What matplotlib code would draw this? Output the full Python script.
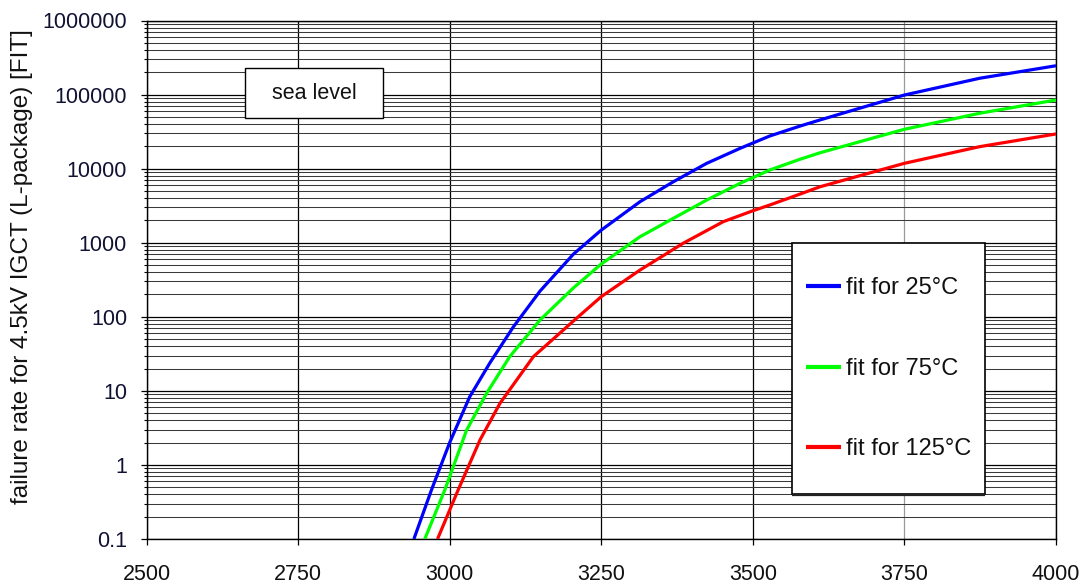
import matplotlib
matplotlib.use("Agg")
import matplotlib.pyplot as plt
from matplotlib.patches import Rectangle
from matplotlib.ticker import FixedLocator, FixedFormatter, LogLocator, NullFormatter

plt.rcParams['font.family'] = ['Liberation Sans', 'DejaVu Sans']

# ---- data ----
x_25 = [2941, 2970, 3000, 3033, 3066, 3105, 3149, 3204, 3250, 3314, 3369, 3424, 3479,
        3528, 3578, 3611, 3750, 3874, 4000]
y_25 = [0.1, 0.46, 2.0, 8.3, 23.6, 73, 222, 700, 1480, 3580, 6660, 11800, 18800,
        27600, 37600, 45500, 98600, 166000, 245000]

x_75 = [2959, 2992, 3028, 3061, 3099, 3149, 3204, 3250, 3314, 3369, 3424, 3479, 3528,
        3578, 3611, 3750, 3874, 4000]
y_75 = [0.1, 0.46, 2.96, 9.3, 28.9, 90.5, 245, 516, 1205, 2135, 3770, 6340, 9590,
        13400, 16400, 34000, 55900, 84500]

x_125 = [2980, 3014, 3050, 3083, 3138, 3206, 3250, 3314, 3385, 3451, 3500, 3528, 3578,
         3611, 3750, 3874, 4000]
y_125 = [0.1, 0.46, 2.17, 6.8, 28.9, 90.5, 187, 428, 982, 1920, 2700, 3230, 4540,
         5700, 11800, 19800, 29400]

series_labels = ["fit for 25°C", "fit for 75°C", "fit for 125°C"]
series_colors = ["#0000ff", "#00ff00", "#ff0000"]

x_ticks = [2500, 2750, 3000, 3250, 3500, 3750, 4000]
y_ticks = [0.1, 1, 10, 100, 1000, 10000, 100000, 1000000]
y_tick_labels = ["0.1", "1", "10", "100", "1000", "10000", "100000", "1000000"]

y_label = "failure rate for 4.5kV IGCT (L-package) [FIT]"
box_text = "sea level"

# ---- figure ----
fig = plt.figure(figsize=(10.82, 5.84), dpi=100)
ax = fig.add_axes([146.5 / 1082, 1 - 539 / 584, 909.5 / 1082, 518.5 / 584])

ax.set_yscale('log')
ax.set_xlim(2500, 4000)
ax.set_ylim(0.1, 1000000)

ax.xaxis.set_major_locator(FixedLocator(x_ticks))
ax.yaxis.set_major_locator(FixedLocator(y_ticks))
ax.yaxis.set_major_formatter(FixedFormatter(y_tick_labels))
ax.yaxis.set_minor_locator(LogLocator(base=10, subs=range(2, 10), numticks=20))
ax.yaxis.set_minor_formatter(NullFormatter())

ax.grid(which='major', axis='both', color='black', linewidth=0.9, zorder=0)
ax.grid(which='minor', axis='y', color='#3a3a3a', linewidth=0.75, zorder=0)
ax.set_axisbelow(True)
# the 3750 vertical gridline is lighter in the reference
ax.get_xgridlines()[5].set_color('#9a9a9a')

ax.tick_params(axis='y', which='major', direction='out', length=4, width=0.9,
               labelsize=15.5, pad=10, colors='black', labelcolor='#111133')
ax.tick_params(axis='y', which='minor', direction='out', length=2.5, width=0.8)
ax.tick_params(axis='x', which='major', direction='out', length=4, width=0.9,
               labelsize=15.5, pad=14, labelcolor='#111111')

for sp in ax.spines.values():
    sp.set_color('black')
    sp.set_linewidth(1.0)

for xs, ys, lab, col in zip([x_25, x_75, x_125], [y_25, y_75, y_125],
                            series_labels, series_colors):
    ax.plot(xs, ys, color=col, linewidth=2.3, label=lab, zorder=3,
            solid_capstyle='butt', solid_joinstyle='round')

ax.set_ylabel(y_label, fontsize=17.5, color='#111111')
ax.yaxis.set_label_coords(-0.1248, 0.525)

# sea level box
ax.add_patch(Rectangle((0.1083, 0.8114), 0.1517, 0.0964, transform=ax.transAxes,
                       facecolor='white', edgecolor='black', linewidth=1.0, zorder=5))
ax.text(0.1842, 0.8596, box_text, transform=ax.transAxes, ha='center', va='center',
        fontsize=15.5, color='#111111', zorder=6)

# legend box
ax.add_patch(Rectangle((0.7094, 0.0862), 0.2125, 0.4841, transform=ax.transAxes,
                       facecolor='white', edgecolor='black', linewidth=1.2, zorder=5))
ax.plot([0.7094, 0.9219], [0.0850, 0.0850], transform=ax.transAxes, color='#222222',
        linewidth=1.6, zorder=5, solid_capstyle='butt')
leg = ax.legend(loc='center', bbox_to_anchor=(0.8157, 0.3283), frameon=False,
                fontsize=17, handlelength=1.48, handletextpad=0.2, labelspacing=2.47,
                borderpad=0.3)
leg.set_zorder(6)
for t in leg.get_texts():
    t.set_color('#111111')
for h in leg.get_lines():
    h.set_linewidth(3.0)

fig.savefig("out.png", dpi=100, facecolor='white')
